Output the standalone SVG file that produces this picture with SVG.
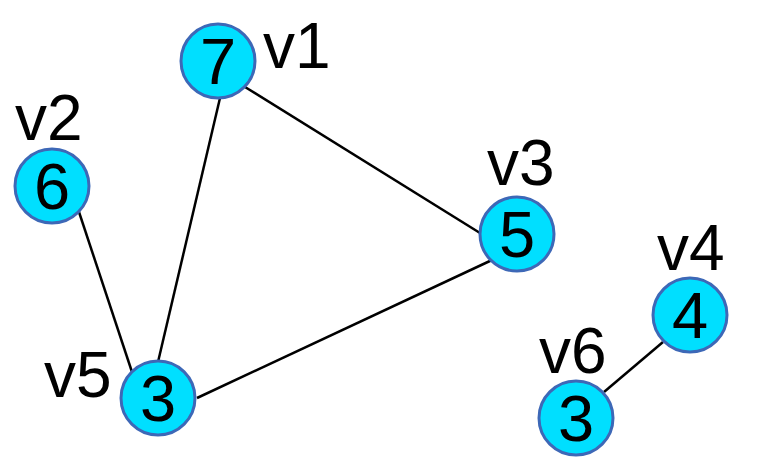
<svg xmlns="http://www.w3.org/2000/svg" width="759" height="459" viewBox="0 0 759 459">
  <style>
    .edge { stroke: #000; stroke-width: 2.5; fill: none; }
    .node circle { fill: #00dfff; stroke: #3d68b7; stroke-width: 3; }
    .val { font-family: "Liberation Sans", Arial, sans-serif; font-size: 65px; fill: #000; text-anchor: middle; }
    .lbl { font-family: "Liberation Sans", Arial, sans-serif; font-size: 64px; fill: #000; }
  </style>
  <rect width="759" height="459" fill="#fff"/>
  <g id="edges">
    <line class="edge" x1="220" y1="98" x2="158" y2="362"/>
    <line class="edge" x1="79" y1="212" x2="132" y2="372"/>
    <line class="edge" x1="245" y1="87" x2="480" y2="233"/>
    <line class="edge" x1="197" y1="398" x2="492" y2="260"/>
    <line class="edge" x1="604" y1="392" x2="663" y2="342"/>
  </g>
  <g id="v1" class="node">
    <circle cx="218" cy="61" r="37"/>
    <text class="val" x="218" y="84">7</text>
    <text class="lbl" x="263" y="68">v1</text>
  </g>
  <g id="v2" class="node">
    <circle cx="52" cy="186" r="37"/>
    <text class="val" x="52" y="209">6</text>
    <text class="lbl" x="15" y="140">v2</text>
  </g>
  <g id="v3" class="node">
    <circle cx="517" cy="234" r="37"/>
    <text class="val" x="517" y="257">5</text>
    <text class="lbl" x="487" y="185">v3</text>
  </g>
  <g id="v4" class="node">
    <circle cx="690" cy="315" r="37"/>
    <text class="val" x="690" y="338">4</text>
    <text class="lbl" x="657" y="270">v4</text>
  </g>
  <g id="v5" class="node">
    <circle cx="158" cy="398" r="37"/>
    <text class="val" x="158" y="421">3</text>
    <text class="lbl" x="44" y="397">v5</text>
  </g>
  <g id="v6" class="node">
    <circle cx="576" cy="418" r="37"/>
    <text class="val" x="576" y="441">3</text>
    <text class="lbl" x="539" y="373">v6</text>
  </g>
</svg>
